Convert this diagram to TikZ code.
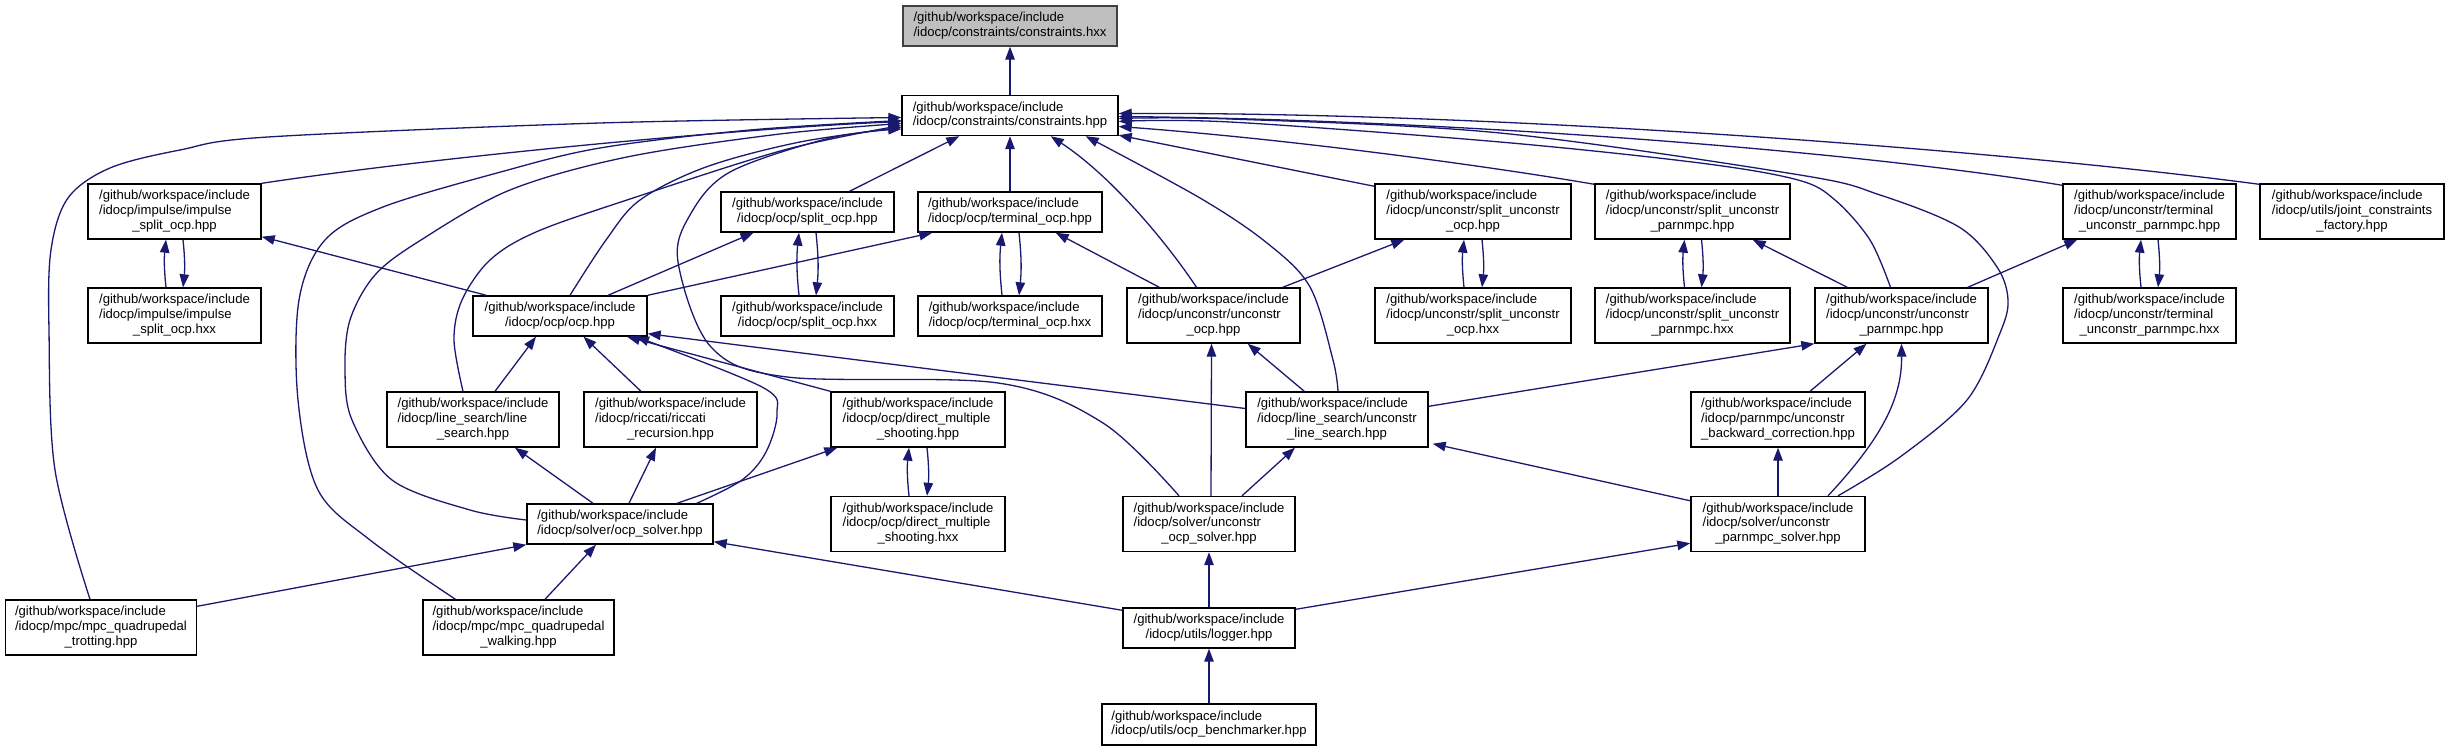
\documentclass[tikz,border=0pt]{standalone}
\usepackage{fontspec}
\setmainfont{Liberation Sans}
\usetikzlibrary{arrows.meta,calc}
\definecolor{navy}{HTML}{191970}
\definecolor{rootfill}{HTML}{BFBFBF}
\newcommand{\gw}{/github/workspace/include}
\newcommand{\lblii}[1]{\begin{tabular}{@{}l@{}}\gw\\\multicolumn{1}{@{}c@{}}{#1}\end{tabular}}
\newcommand{\lbliii}[2]{\begin{tabular}{@{}l@{}}\gw\\#1\\\multicolumn{1}{@{}c@{}}{#2}\end{tabular}}
\tikzset{
  box/.style={draw=black, line width=1.4pt, fill=white, inner sep=0pt,
    font=\fontsize{13.1}{14.7}\selectfont, minimum height=55pt},
  two/.style={minimum height=40pt},
  dep/.style={draw=navy, line width=1.3pt, -{Triangle[length=13pt,width=9.5pt]}},
  sm/.style={smooth, tension=0.55}
}
\begin{document}
\begin{tikzpicture}[x=1pt,y=-1pt]
\useasboundingbox (0,0) rectangle (2451,751);
% nodes
\node[box,two,fill=rootfill,draw=black!75,minimum width=214pt] (hxx) at (1010,26) {\lblii{/idocp/constraints/constraints.hxx}};
\node[box,two,minimum width=216pt] (chpp) at (1010,115.5) {\lblii{/idocp/constraints/constraints.hpp}};
\node[box,minimum width=173pt] (isphpp) at (174.5,211.5) {\lbliii{/idocp/impulse/impulse}{\_split\_ocp.hpp}};
\node[box,two,minimum width=173pt] (sphpp) at (807.5,212) {\lblii{/idocp/ocp/split\_ocp.hpp}};
\node[box,two,minimum width=184pt] (tmhpp) at (1010,212) {\lblii{/idocp/ocp/terminal\_ocp.hpp}};
\node[box,minimum width=196pt] (suohpp) at (1473,211.5) {\lbliii{/idocp/unconstr/split\_unconstr}{\_ocp.hpp}};
\node[box,minimum width=195pt] (suphpp) at (1692.5,211.5) {\lbliii{/idocp/unconstr/split\_unconstr}{\_parnmpc.hpp}};
\node[box,minimum width=173pt] (tuphpp) at (2149.5,211.5) {\lbliii{/idocp/unconstr/terminal}{\_unconstr\_parnmpc.hpp}};
\node[box,minimum width=184pt] (jcf) at (2352,211.5) {\lbliii{/idocp/utils/joint\_constraints}{\_factory.hpp}};
\node[box,minimum width=173pt] (isphxx) at (174.5,315.5) {\lbliii{/idocp/impulse/impulse}{\_split\_ocp.hxx}};
\node[box,two,minimum width=174pt] (ocp) at (560,316) {\lblii{/idocp/ocp/ocp.hpp}};
\node[box,two,minimum width=173pt] (sphxx) at (807.5,316) {\lblii{/idocp/ocp/split\_ocp.hxx}};
\node[box,two,minimum width=184pt] (tmhxx) at (1010,316) {\lblii{/idocp/ocp/terminal\_ocp.hxx}};
\node[box,minimum width=173pt] (uohpp) at (1213.5,315.5) {\lbliii{/idocp/unconstr/unconstr}{\_ocp.hpp}};
\node[box,minimum width=196pt] (suohxx) at (1473,315.5) {\lbliii{/idocp/unconstr/split\_unconstr}{\_ocp.hxx}};
\node[box,minimum width=195pt] (suphxx) at (1692.5,315.5) {\lbliii{/idocp/unconstr/split\_unconstr}{\_parnmpc.hxx}};
\node[box,minimum width=173pt] (uphpp) at (1901.5,315.5) {\lbliii{/idocp/unconstr/unconstr}{\_parnmpc.hpp}};
\node[box,minimum width=173pt] (tuphxx) at (2149.5,315.5) {\lbliii{/idocp/unconstr/terminal}{\_unconstr\_parnmpc.hxx}};
\node[box,minimum width=172pt] (ls) at (473,419.5) {\lbliii{/idocp/line\_search/line}{\_search.hpp}};
\node[box,minimum width=173pt] (ric) at (670.5,419.5) {\lbliii{/idocp/riccati/riccati}{\_recursion.hpp}};
\node[box,minimum width=174pt] (dmshpp) at (918,419.5) {\lbliii{/idocp/ocp/direct\_multiple}{\_shooting.hpp}};
\node[box,minimum width=182pt] (uls) at (1337,419.5) {\lbliii{/idocp/line\_search/unconstr}{\_line\_search.hpp}};
\node[box,minimum width=174pt] (ubc) at (1778,419.5) {\lbliii{/idocp/parnmpc/unconstr}{\_backward\_correction.hpp}};
\node[box,two,minimum width=186pt] (os) at (620,524) {\lblii{/idocp/solver/ocp\_solver.hpp}};
\node[box,minimum width=174pt] (dmshxx) at (918,524) {\lbliii{/idocp/ocp/direct\_multiple}{\_shooting.hxx}};
\node[box,minimum width=172pt] (uos) at (1209,524) {\lbliii{/idocp/solver/unconstr}{\_ocp\_solver.hpp}};
\node[box,minimum width=174pt] (ups) at (1778,524) {\lbliii{/idocp/solver/unconstr}{\_parnmpc\_solver.hpp}};
\node[box,minimum width=191pt] (trot) at (101,627.5) {\lbliii{/idocp/mpc/mpc\_quadrupedal}{\_trotting.hpp}};
\node[box,minimum width=191pt] (walk) at (518.5,627.5) {\lbliii{/idocp/mpc/mpc\_quadrupedal}{\_walking.hpp}};
\node[box,two,minimum width=172pt] (log) at (1209,628) {\lblii{/idocp/utils/logger.hpp}};
\node[box,two,minimum width=214pt,minimum height=41pt] (bench) at (1209,724.5) {\lblii{/idocp/utils/ocp\_benchmarker.hpp}};
% helper coordinates
\coordinate (trotA) at ($(trot.north)+(-11,0)$);
\coordinate (walkA) at ($(walk.north)+(-63,0)$);
\coordinate (osA) at ($(os.west)+(0,-4)$);
\coordinate (lsA) at ($(ls.north)+(-10,0)$);
\coordinate (ocpA) at ($(ocp.north)+(10,0)$);
\coordinate (uosA) at ($(uos.north)+(-30,0)$);
\coordinate (ulsA) at ($(uls.north)+(1,0)$);
\coordinate (upA) at ($(uphpp.north)+(-11,0)$);
\coordinate (upsA) at ($(ups.north)+(60,0)$);
\coordinate (osB) at ($(os.north east)+(-17,0)$);
\coordinate (cW2) at ($(chpp.west)+(0,2)$);
\coordinate (cW5) at ($(chpp.west)+(0,5)$);
\coordinate (cW8) at ($(chpp.west)+(0,8)$);
\coordinate (cW10) at ($(chpp.west)+(0,10)$);
\coordinate (cW12) at ($(chpp.west)+(0,12)$);
\coordinate (cW13) at ($(chpp.west)+(0,13.5)$);
\coordinate (cSuls) at ($(chpp.south east)+(-33,0)$);
\coordinate (cE6) at ($(chpp.east)+(0,6)$);
\coordinate (cE3) at ($(chpp.east)+(0,3)$);
\coordinate (ocpB) at ($(ocp.south)+(76,0)$);
% edges
\draw[dep] (chpp.north) -- (hxx.south);
\draw[dep] plot[sm] coordinates {(trotA) (55,470) (49,330) (51,250) (68,198) (110,168) (180,150) (268,137) (600,123) (cW2)};
\draw[dep] (isphpp.north east) .. controls (450,155) and (750,128) .. ($(chpp.west)+(0,6)$);
\draw[dep] plot[sm] coordinates {(walkA) (370,540) (318,490) (298,400) (299,300) (325,240) (383,207) (497,173) (600,148) (750,130) (cW5)};
\draw[dep] plot[sm] coordinates {(osA) (470,510) (392,480) (352,420) (345,370) (350,320) (375,275) (421,240) (510,190) (627,157) (780,134) (cW8)};
\draw[dep] plot[sm] coordinates {(lsA) (454,340) (462,300) (490,260) (536,232) (627,200) (784,150) (cW10)};
\draw[dep] plot[sm] coordinates {(ocpA) (606,240) (640,200) (706,167) (800,142) (cW12)};
\draw[dep] plot[sm] coordinates {(uosA) (1103,423) (998,383) (787,377) (711,347) (678,262) (690,215) (730,172) (830,138) (cW13)};
\draw[dep] ($(sphpp.north)+(42,0)$) -- ($(chpp.south west)+(58,0)$);
\draw[dep] (tmhpp.north) -- (chpp.south);
\draw[dep] ($(uohpp.north)+(-17,0)$) .. controls (1165,240) and (1110,175) .. ($(chpp.south east)+(-68,0)$);
\draw[dep] plot[sm] coordinates {(ulsA) (1333,360) (1310,287) (1267,243) (1200,198) (cSuls)};
\draw[dep] ($(suohpp.north west)+(0,3)$) -- ($(chpp.south east)+(0,-1)$);
\draw[dep] ($(suphpp.north west)+(0,1)$) .. controls (1500,168) and (1300,140) .. ($(chpp.east)+(0,11)$);
\draw[dep] plot[sm] coordinates {(upA) (1870,240) (1835,200) (1798,180) (1700,163) (1500,142) (1230,122) (cE6)};
\draw[dep] plot[sm] coordinates {(upsA) (1900,457) (1967,400) (2000,333) (2008,300) (1997,267) (1959,227) (1880,195) (1800,175) (1500,133) (1230,119) (cE3)};
\draw[dep] ($(tuphpp.north west)+(0,2)$) .. controls (1850,150) and (1450,120) .. ($(chpp.east)+(0,1)$);
\draw[dep] ($(jcf.north west)+(0,1)$) .. controls (2000,150) and (1500,112) .. ($(chpp.east)+(0,-2)$);
% hpp <-> hxx pairs
\draw[dep] ($(isphxx.north)+(-8.5,0)$) to[bend left=6] ($(isphpp.south)+(-8.5,0)$);
\draw[dep] ($(isphpp.south)+(8.5,0)$) to[bend left=6] ($(isphxx.north)+(8.5,0)$);
\draw[dep] ($(sphxx.north)+(-8.5,0)$) to[bend left=6] ($(sphpp.south)+(-8.5,0)$);
\draw[dep] ($(sphpp.south)+(8.5,0)$) to[bend left=6] ($(sphxx.north)+(8.5,0)$);
\draw[dep] ($(tmhxx.north)+(-8,0)$) to[bend left=6] ($(tmhpp.south)+(-8,0)$);
\draw[dep] ($(tmhpp.south)+(9,0)$) to[bend left=6] ($(tmhxx.north)+(9,0)$);
\draw[dep] ($(suohxx.north)+(-9,0)$) to[bend left=6] ($(suohpp.south)+(-9,0)$);
\draw[dep] ($(suohpp.south)+(9,0)$) to[bend left=6] ($(suohxx.north)+(9,0)$);
\draw[dep] ($(suphxx.north)+(-8,0)$) to[bend left=6] ($(suphpp.south)+(-8,0)$);
\draw[dep] ($(suphpp.south)+(9,0)$) to[bend left=6] ($(suphxx.north)+(9,0)$);
\draw[dep] ($(tuphxx.north)+(-8.5,0)$) to[bend left=6] ($(tuphpp.south)+(-8.5,0)$);
\draw[dep] ($(tuphpp.south)+(8.5,0)$) to[bend left=6] ($(tuphxx.north)+(8.5,0)$);
\draw[dep] ($(dmshxx.north)+(-9,0)$) to[bend left=6] ($(dmshpp.south)+(-9,0)$);
\draw[dep] ($(dmshpp.south)+(9,0)$) to[bend left=6] ($(dmshxx.north)+(9,0)$);
% row 2/3
\draw[dep] ($(ocp.north west)+(14,0)$) -- ($(isphpp.south east)+(0,-3)$);
\draw[dep] ($(ocp.north)+(48,0)$) -- ($(sphpp.south)+(-54,0)$);
\draw[dep] (ocp.north east) -- ($(tmhpp.south west)+(15,0)$);
\draw[dep] ($(uohpp.north west)+(33,0)$) -- ($(tmhpp.south east)+(-47,0)$);
\draw[dep] ($(uohpp.north east)+(-18,0)$) -- ($(suohpp.south west)+(30,0)$);
\draw[dep] ($(uphpp.north west)+(33,0)$) -- ($(suphpp.south east)+(-38,0)$);
\draw[dep] ($(uphpp.north east)+(-21,0)$) -- ($(tuphpp.south west)+(15,0)$);
% row 3/4
\draw[dep] ($(ls.north)+(22,0)$) -- ($(ocp.south)+(-24,0)$);
\draw[dep] ($(ric.north)+(-29.5,0)$) -- ($(ocp.south)+(23.5,0)$);
\draw[dep] (dmshpp.north west) -- ($(ocp.south)+(67,0)$);
\draw[dep] plot[sm] coordinates {(osB) (742,480) (766,452) (777,413) (762,387) (ocpB)};
\draw[dep] ($(uls.west)+(0,-11)$) -- ($(ocp.south east)+(0,-3)$);
\draw[dep] ($(uls.north west)+(59,0)$) -- ($(uohpp.south east)+(-53,0)$);
\draw[dep] ($(uos.north)+(2,0)$) -- ($(uohpp.south)+(-2,0)$);
\draw[dep] ($(uls.north east)+(0,15)$) -- (uphpp.south west);
\draw[dep] ($(ubc.north)+(32,0)$) -- ($(uphpp.south)+(-35,0)$);
\draw[dep] ($(ups.north)+(50,0)$) .. controls (1880,440) and (1902,400) .. (uphpp.south);
\draw[dep] (ups.north) -- (ubc.south);
\draw[dep] ($(ups.north west)+(0,5)$) -- ($(uls.south east)+(4,-4)$);
% row 4/5
\draw[dep] ($(os.north)+(-27,0)$) -- ($(ls.south)+(42,0)$);
\draw[dep] ($(os.north)+(9,0)$) -- ($(ric.south)+(-14.5,0)$);
\draw[dep] ($(os.north)+(57,0)$) -- ($(dmshpp.south west)+(7,0)$);
\draw[dep] ($(uos.north)+(33,0)$) -- ($(uls.south)+(-42,0)$);
% row 5/6
\draw[dep] ($(trot.north east)+(0,7)$) -- (os.south west);
\draw[dep] ($(walk.north)+(26.5,0)$) -- ($(os.south)+(-24,0)$);
\draw[dep] ($(log.north west)+(0,3)$) -- ($(os.south east)+(0,-3)$);
\draw[dep] (log.north) -- (uos.south);
\draw[dep] ($(log.north east)+(0,2)$) -- ($(ups.south west)+(0,-9)$);
\draw[dep] (bench.north) -- (log.south);
\end{tikzpicture}
\end{document}
